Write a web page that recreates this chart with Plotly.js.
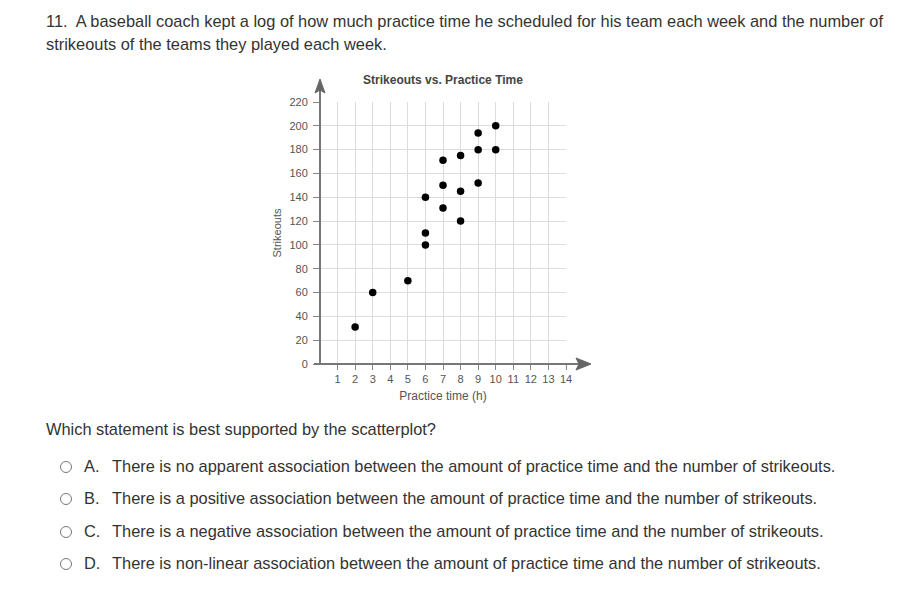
<!DOCTYPE html>
<html>
<head>
<meta charset="utf-8">
<script src="https://cdn.plot.ly/plotly-3.0.1.min.js"></script>
<style>
  html, body { margin: 0; padding: 0; background: #fff; }
  body { width: 901px; height: 590px; position: relative; overflow: hidden;
         font-family: "Liberation Sans", Arial, sans-serif; color: #333; }
  #chart { position: absolute; left: 0; top: 0; width: 901px; height: 590px; }
  .txt { position: absolute; font-size: 16.4px; line-height: 23px; white-space: nowrap; color: #333; }
  .radio { position: absolute; width: 10px; height: 10px; border: 1px solid #777; border-radius: 50%; }
</style>
</head>
<body>
<div id="chart"></div>
<div class="txt" style="left:46px; top:10px;">11.&nbsp; A baseball coach kept a log of how much practice time he scheduled for his team each week and the number of</div>
<div class="txt" style="left:46px; top:33px;">strikeouts of the teams they played each week.</div>
<div class="txt" style="left:46px; top:418px;">Which statement is best supported by the scatterplot?</div>
<div id="opts"></div>
<script>
// ---- data ----
const practiceHours = [2, 3, 5, 6, 6, 6, 7, 7, 7, 8, 8, 8, 9, 9, 9, 10, 10];
const strikeouts    = [31, 60, 70, 100, 110, 140, 131, 150, 171, 120, 145, 175, 152, 180, 194, 180, 200];
const xTickVals = [1, 2, 3, 4, 5, 6, 7, 8, 9, 10, 11, 12, 13, 14];
const yTickVals = [0, 20, 40, 60, 80, 100, 120, 140, 160, 180, 200, 220];
const chartTitle = "Strikeouts vs. Practice Time";
const xTitle = "Practice time (h)";
const yTitle = "Strikeouts";
const optionLetters = ["A.", "B.", "C.", "D."];
const optionTexts = [
  "There is no apparent association between the amount of practice time and the number of strikeouts.",
  "There is a positive association between the amount of practice time and the number of strikeouts.",
  "There is a negative association between the amount of practice time and the number of strikeouts.",
  "There is non-linear association between the amount of practice time and the number of strikeouts."
];

// ---- options (HTML text) ----
const optTops = [455, 487, 520, 552];
const optsDiv = document.getElementById('opts');
optionTexts.forEach((t, i) => {
  const r = document.createElement('div');
  r.className = 'radio';
  r.style.left = '60px'; r.style.top = (optTops[i] + 6) + 'px';
  optsDiv.appendChild(r);
  const l = document.createElement('div');
  l.className = 'txt'; l.style.left = '84px'; l.style.top = optTops[i] + 'px';
  l.textContent = optionLetters[i];
  optsDiv.appendChild(l);
  const d = document.createElement('div');
  d.className = 'txt'; d.style.left = '112px'; d.style.top = optTops[i] + 'px';
  d.textContent = t;
  optsDiv.appendChild(d);
});

// ---- chart ----
const W = 901, H = 590;
const L = 320, R = 566, T = 102, B = 364;
const px = v => (v - L) / (R - L);
const py = v => (B - v) / (B - T);
const axisCol = '#777';

const shapes = [
  // y axis line with arrow
  {type: 'line', xref: 'paper', yref: 'paper', x0: 0, x1: 0, y0: 0, y1: py(90),
   line: {color: axisCol, width: 2}},
  {type: 'path', xref: 'paper', yref: 'paper',
   path: `M ${px(L)} ${py(79)} L ${px(L - 5)} ${py(93)} L ${px(L)} ${py(90)} L ${px(L + 5)} ${py(93)} Z`,
   fillcolor: '#666', line: {color: '#666', width: 1}},
  // x axis line with arrow
  {type: 'line', xref: 'paper', yref: 'paper', x0: px(314), x1: px(580), y0: 0, y1: 0,
   line: {color: axisCol, width: 2}},
  {type: 'path', xref: 'paper', yref: 'paper',
   path: `M ${px(591)} ${py(B)} L ${px(576)} ${py(B - 6)} L ${px(579)} ${py(B)} L ${px(576)} ${py(B + 6)} Z`,
   fillcolor: '#666', line: {color: '#666', width: 1}}
];

const trace = {
  x: practiceHours, y: strikeouts, type: 'scatter', mode: 'markers',
  marker: {color: '#000', size: 7.5}, cliponaxis: false, hoverinfo: 'skip'
};

const layout = {
  width: W, height: H,
  margin: {l: L, r: W - R, t: T, b: H - B, pad: 0},
  paper_bgcolor: 'rgba(0,0,0,0)', plot_bgcolor: 'rgba(0,0,0,0)',
  showlegend: false,
  font: {family: '"Liberation Sans", Arial, sans-serif', color: '#555', size: 11},
  title: {text: '<b>' + chartTitle + '</b>', x: (443) / W, xanchor: 'center', xref: 'container',
          y: 1 - 80 / H, yanchor: 'middle', yref: 'container',
          font: {size: 12, color: '#444'}},
  xaxis: {range: [0, 14], tickmode: 'array', tickvals: xTickVals, ticktext: xTickVals.map(String),
          showgrid: true, gridcolor: '#dcdcdc', gridwidth: 1, zeroline: false, showline: false,
          ticks: 'outside', ticklen: 5, tickcolor: '#888', tickwidth: 1,
          tickfont: {size: 11, color: '#555'}, fixedrange: true,
          title: {text: xTitle, font: {size: 12, color: '#555'}, standoff: 7}},
  yaxis: {range: [0, 220], tickmode: 'array', tickvals: yTickVals, ticktext: yTickVals.map(String),
          showgrid: true, gridcolor: '#dcdcdc', gridwidth: 1, zeroline: false, showline: false,
          ticks: 'outside', ticklen: 6, tickcolor: '#888', tickwidth: 1, ticklabelstandoff: 3,
          tickfont: {size: 11, color: '#555'}, fixedrange: true,
          title: {text: yTitle, font: {size: 11, color: '#555'}, standoff: 5}},
  shapes: shapes
};

Plotly.newPlot('chart', [trace], layout, {staticPlot: true, displayModeBar: false});
</script>
</body>
</html>
